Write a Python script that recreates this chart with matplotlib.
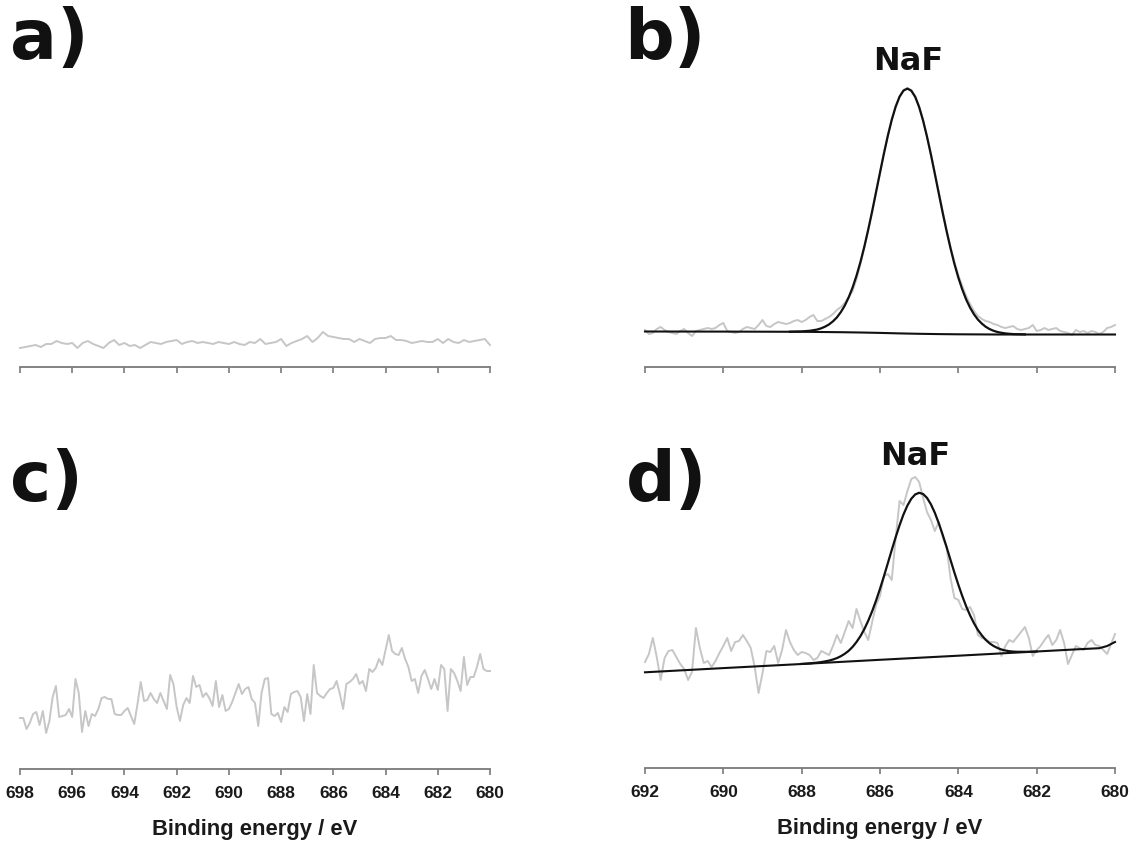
import numpy as np
import matplotlib
matplotlib.use("Agg")
import matplotlib.pyplot as plt

# ---------------- data (intensity in arbitrary units) ----------------
# panel a: 698 -> 680 eV, 0.2 eV steps
a_range = (698.0, 680.0)
a_counts = [19, 20, 21, 22, 20, 23, 23, 26, 24, 23, 24, 19, 24, 26, 23, 21, 19, 24, 27, 22,
            24, 21, 22, 19, 22, 25, 24, 23, 25, 26, 27, 23, 25, 26, 24, 25, 24, 23, 25, 24,
            23, 25, 23, 22, 25, 24, 28, 23, 24, 25, 28, 21, 24, 26, 28, 31, 25, 29, 35, 31,
            30, 29, 28, 28, 25, 28, 26, 24, 28, 29, 29, 31, 27, 27, 26, 24, 25, 26, 25, 25,
            28, 24, 28, 25, 24, 27, 25, 26, 27, 28, 22]

# panel b: 692 -> 680 eV, 0.1 eV steps
b_range = (692.0, 680.0)
b_counts = [37, 33, 34, 38, 40, 37, 35, 34, 33, 36, 38, 34, 31, 36, 37, 38, 39, 38, 39, 42,
            44, 36, 35, 34, 35, 38, 40, 39, 38, 42, 47, 41, 40, 43, 45, 44, 43, 44, 46, 47,
            45, 47, 50, 52, 46, 46, 48, 50, 53, 57, 60, 64, 70, 76, 88, 103, 119, 138, 155, 176,
            194, 214, 232, 248, 261, 271, 277, 279, 277, 271, 261, 247, 231, 213, 194, 175, 156, 137, 120, 105,
            92, 81, 71, 63, 56, 51, 48, 46, 45, 43, 42, 40, 39, 40, 41, 38, 37, 38, 39, 42,
            36, 37, 39, 37, 38, 39, 36, 35, 34, 32, 37, 35, 36, 34, 36, 35, 33, 35, 39, 40,
            42]
# fitted envelope of panel b, 688.3 -> 682.3 eV, 0.1 eV steps
b_fit_range = (688.3, 682.3)
b_fit = [35.3, 35.4, 35.5, 35.6, 35.9, 36.2, 36.8, 37.5, 38.7, 40.4, 42.6, 45.7, 49.6, 54.9, 61.4,
         69.6, 79.5, 91.3, 104.9, 120.4, 137.4, 155.8, 175.0, 194.4, 213.4, 231.2, 247.1, 260.3, 270.3,
         276.4, 278.4, 276.2, 270.0, 259.8, 246.4, 230.3, 212.4, 193.2, 173.7, 154.3, 135.9, 118.8,
         103.1, 89.4, 77.6, 67.5, 59.3, 52.7, 47.4, 43.4, 40.2, 37.9, 36.2, 35.0, 34.2, 33.6, 33.2,
         32.9, 32.8, 32.7, 32.6]
# background of panel b
b_bg_energy = [692.0, 690.0, 688.0, 687.5, 687.0, 686.5, 686.0, 685.5, 685.0, 684.5, 684.0, 683.5, 683.0, 680.0]
b_bg = [35.5, 35.4, 35.2, 35.0, 34.8, 34.5, 34.1, 33.6, 33.2, 32.9, 32.7, 32.6, 32.5, 32.5]

# panel c: 698 -> 680 eV, 0.125 eV steps
c_range = (698.0, 680.0)
c_counts = [51, 51, 40, 46, 55, 57, 44, 58, 36, 48, 72, 83, 52, 53, 54, 60, 52, 90, 76, 37,
            58, 43, 55, 53, 60, 71, 72, 70, 70, 55, 54, 54, 58, 61, 53, 45, 65, 87, 68, 69,
            76, 70, 66, 76, 68, 60, 94, 85, 62, 48, 64, 71, 66, 93, 82, 84, 72, 76, 71, 63,
            88, 62, 74, 58, 60, 67, 76, 85, 75, 80, 82, 70, 66, 43, 76, 90, 91, 55, 53, 56,
            47, 62, 57, 75, 77, 78, 72, 48, 75, 55, 104, 76, 73, 71, 76, 80, 81, 88, 75, 60,
            85, 87, 90, 95, 85, 88, 78, 100, 97, 101, 110, 104, 119, 134, 118, 115, 114, 121, 110, 102,
            88, 90, 76, 93, 99, 90, 80, 90, 79, 104, 100, 58, 100, 96, 88, 78, 112, 84, 92, 92,
            102, 115, 100, 98, 98]

# panel d: 692 -> 680 eV, 0.1 eV steps
d_range = (692.0, 680.0)
d_counts = [106, 114, 130, 111, 88, 110, 117, 118, 111, 104, 99, 88, 96, 140, 120, 105, 107, 101, 107, 115,
            122, 130, 117, 126, 127, 133, 127, 120, 101, 75, 95, 117, 116, 122, 105, 118, 138, 126, 118, 113,
            116, 115, 113, 108, 110, 117, 115, 113, 122, 133, 125, 136, 147, 140, 159, 147, 136, 128, 146, 163,
            172, 192, 194, 188, 230, 267, 263, 277, 289, 291, 286, 270, 256, 248, 237, 246, 231, 221, 190, 170,
            168, 159, 158, 161, 153, 133, 130, 129, 126, 126, 125, 112, 122, 128, 126, 131, 136, 141, 130, 112,
            118, 122, 128, 133, 123, 128, 138, 125, 104, 113, 122, 120, 118, 125, 128, 123, 122, 118, 114, 124,
            134]
# fitted envelope of panel d, 688.0 -> 682.0 eV, 0.1 eV steps
d_fit_range = (688.0, 682.0)
d_fit = [104.1, 104.3, 104.6, 105.0, 105.4, 105.9, 106.6, 107.4, 108.5, 109.9, 111.8, 114.2, 117.2,
         121.1, 126.0, 131.8, 138.9, 147.3, 156.8, 167.5, 179.2, 191.7, 204.8, 218.0, 230.8, 242.8,
         253.6, 262.5, 269.3, 273.6, 275.2, 274.0, 270.1, 263.7, 255.2, 244.8, 233.3, 220.9, 208.1,
         195.4, 183.3, 172.0, 161.7, 152.6, 144.7, 138.0, 132.6, 128.1, 124.6, 122.0, 120.0, 118.5,
         117.5, 116.8, 116.4, 116.2, 116.2, 116.2, 116.2, 116.3, 116.5]
# background of panel d
d_bg_energy = [692.0, 690.0, 688.0, 686.0, 684.0, 682.0, 681.0, 680.6, 680.4, 680.2, 680.0]
d_bg = [95.7, 99.9, 104.0, 108.2, 112.3, 116.5, 118.6, 119.4, 119.8, 122.0, 126.0]

panel_labels = ["a)", "b)", "c)", "d)"]
peak_label = "NaF"
xlabel_text = "Binding energy / eV"


def grid(rng, n):
    return np.linspace(rng[0], rng[1], n)


# ---------------- figure ----------------
W, H = 1138, 843
fig = plt.figure(figsize=(W / 100, H / 100), dpi=100)

GRAY = "#c6c6c6"
BLACK = "#111111"
SPINE = "#7a7a7a"


def make_ax(x0, y_axis, xr, ticks, labels):
    left = x0 / W
    bottom = 1 - y_axis / H
    ax = fig.add_axes([left, bottom, 470 / W, 300 / H])
    ax.set_xlim(xr[0], xr[1])
    ax.set_ylim(0, 300)
    for s in ["top", "left", "right"]:
        ax.spines[s].set_visible(False)
    ax.spines["bottom"].set_color(SPINE)
    ax.spines["bottom"].set_linewidth(1.3)
    ax.set_yticks([])
    ax.set_xticks(ticks)
    ax.tick_params(axis="x", direction="out", length=4, width=1.2, color=SPINE,
                   pad=8, labelsize=12.5, labelcolor="#1a1a1a")
    if labels:
        ax.set_xticklabels([f"{t:d}" for t in ticks], fontweight="bold",
                           family="Liberation Sans")
        ax.set_xlabel(xlabel_text, fontsize=15.8, fontweight="bold",
                      family="Liberation Sans", labelpad=13, color="#1a1a1a")
    else:
        ax.set_xticklabels([])
    ax.patch.set_alpha(0)
    return ax


ticks_wide = list(range(698, 679, -2))
ticks_narrow = list(range(692, 679, -2))

ax_a = make_ax(20, 367, a_range, ticks_wide, False)
ax_b = make_ax(645, 367, b_range, ticks_narrow, False)
ax_c = make_ax(20, 769, c_range, ticks_wide, True)
ax_d = make_ax(645, 768, d_range, ticks_narrow, True)

LW_G = 1.4
ax_a.plot(grid(a_range, len(a_counts)), a_counts, color=GRAY, lw=LW_G, clip_on=False)

ax_b.plot(grid(b_range, len(b_counts)), b_counts, color=GRAY, lw=LW_G, clip_on=False)
ax_b.plot(b_bg_energy, b_bg, color=BLACK, lw=1.5, clip_on=False)
ax_b.plot(grid(b_fit_range, len(b_fit)), b_fit, color=BLACK, lw=1.6, clip_on=False)

ax_c.plot(grid(c_range, len(c_counts)), c_counts, color=GRAY, lw=LW_G, clip_on=False)

ax_d.plot(grid(d_range, len(d_counts)), d_counts, color=GRAY, lw=LW_G, clip_on=False)
ax_d.plot(d_bg_energy, d_bg, color=BLACK, lw=1.5, clip_on=False)
ax_d.plot(grid(d_fit_range, len(d_fit)), d_fit, color=BLACK, lw=1.6, clip_on=False)

# peak labels
fig.text(908 / W, 1 - 61 / H, peak_label, ha="center", va="center", fontsize=23,
         fontweight="bold", family="DejaVu Sans", color="#111111")
fig.text(915 / W, 1 - 456 / H, peak_label, ha="center", va="center", fontsize=23,
         fontweight="bold", family="DejaVu Sans", color="#111111")

# panel letters
for lab, (px, py) in zip(panel_labels, [(10, 40), (624, 40), (10, 481), (626, 481)]):
    fig.text(px / W, 1 - py / H, lab, ha="left", va="center", fontsize=50,
             fontweight="bold", family="DejaVu Sans", color="#111111")

fig.savefig("out.png", dpi=100)
